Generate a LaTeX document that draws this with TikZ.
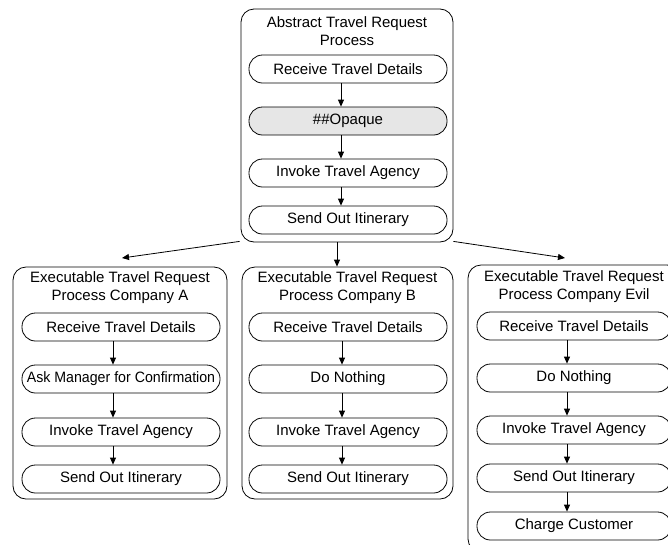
\documentclass[tikz,border=0pt]{standalone}
\usepackage{fontspec}
\setmainfont{Liberation Sans}
\usetikzlibrary{arrows.meta}
\definecolor{opaquefill}{HTML}{E6E6E6}
\begin{document}
\begin{tikzpicture}[x=1pt,y=-1pt,
  font=\fontsize{15}{18}\selectfont,
  container/.style={draw, line width=0.8pt, rounded corners=13pt, inner sep=0pt},
  title/.style={align=center, inner sep=0pt},
  task/.style={draw, line width=0.8pt, rounded corners=13.5pt, minimum height=28pt, inner sep=0pt},
  arr/.style={-{Triangle[length=7pt,width=6pt]}, line width=0.8pt}]
\clip (0,0) rectangle (668,544);
% top container
\node[container, minimum width=212pt, minimum height=233pt] (top) at (347,125.5) {};
\node[title] (topT) at (347,31) {Abstract Travel Request\\Process};
\node[task, minimum width=198pt] (t1) at (348,69) {Receive Travel Details};
\node[task, minimum width=198pt, fill=opaquefill] (t2) at (348,121) {\#\#Opaque};
\node[task, minimum width=198pt] (t3) at (348,173) {Invoke Travel Agency};
\node[task, minimum width=198pt] (t4) at (348,220) {Send Out Itinerary};
\draw[arr] ([xshift=-7pt]t1.south) -- ([xshift=-7pt]t2.north);
\draw[arr] ([xshift=-7pt]t2.south) -- ([xshift=-7pt]t3.north);
\draw[arr] ([xshift=-7pt]t3.south) -- ([xshift=-7pt]t4.north);
% company A
\node[container, minimum width=214pt, minimum height=232pt] (A) at (120,383) {};
\node[title] (AT) at (120,288) {Executable Travel Request\\Process Company A};
\node[task, minimum width=198pt] (a1) at (121,327) {Receive Travel Details};
\node[task, minimum width=198pt] (a2) at (121,379) {\scalebox{0.945}[1]{Ask Manager for Confirmation}};
\node[task, minimum width=198pt] (a3) at (121,432) {Invoke Travel Agency};
\node[task, minimum width=198pt] (a4) at (121,479) {Send Out Itinerary};
\draw[arr] ([xshift=-8pt]a1.south) -- ([xshift=-8pt]a2.north);
\draw[arr] ([xshift=-8pt]a2.south) -- ([xshift=-8pt]a3.north);
\draw[arr] ([xshift=-8pt]a3.south) -- ([xshift=-8pt]a4.north);
% company B
\node[container, minimum width=211pt, minimum height=232pt] (B) at (347.5,383) {};
\node[title] (BT) at (347.5,288) {Executable Travel Request\\Process Company B};
\node[task, minimum width=198pt] (b1) at (348,327) {Receive Travel Details};
\node[task, minimum width=198pt] (b2) at (348,379) {Do Nothing};
\node[task, minimum width=198pt] (b3) at (348,432) {Invoke Travel Agency};
\node[task, minimum width=198pt] (b4) at (348,479) {Send Out Itinerary};
\draw[arr] ([xshift=-6pt]b1.south) -- ([xshift=-6pt]b2.north);
\draw[arr] ([xshift=-6pt]b2.south) -- ([xshift=-6pt]b3.north);
\draw[arr] ([xshift=-6pt]b3.south) -- ([xshift=-6pt]b4.north);
% company Evil
\node[container, minimum width=212pt, minimum height=287pt] (E) at (574,408.5) {};
\node[title] (ET) at (574,287) {Executable Travel Request\\Process Company Evil};
\node[task, minimum width=194pt] (e1) at (574,326) {Receive Travel Details};
\node[task, minimum width=194pt] (e2) at (574,378) {Do Nothing};
\node[task, minimum width=194pt] (e3) at (574,430) {Invoke Travel Agency};
\node[task, minimum width=194pt] (e4) at (574,478) {Send Out Itinerary};
\node[task, minimum width=194pt] (e5) at (574,526) {Charge Customer};
\draw[arr] ([xshift=-7pt]e1.south) -- ([xshift=-7pt]e2.north);
\draw[arr] ([xshift=-7pt]e2.south) -- ([xshift=-7pt]e3.north);
\draw[arr] ([xshift=-7pt]e3.south) -- ([xshift=-7pt]e4.north);
\draw[arr] ([xshift=-7pt]e4.south) -- ([xshift=-7pt]e5.north);
% top to companies
\coordinate (aEnd) at (122,258);
\coordinate (eEnd) at (565,258);
\draw[arr] ([xshift=-1pt,yshift=1pt]top.south west) -- (aEnd);
\draw[arr] ([xshift=-10pt]top.south) -- ([xshift=-10pt]top.south |- B.north);
\draw[arr] ([yshift=1pt]top.south east) -- (eEnd);
\end{tikzpicture}
\end{document}
